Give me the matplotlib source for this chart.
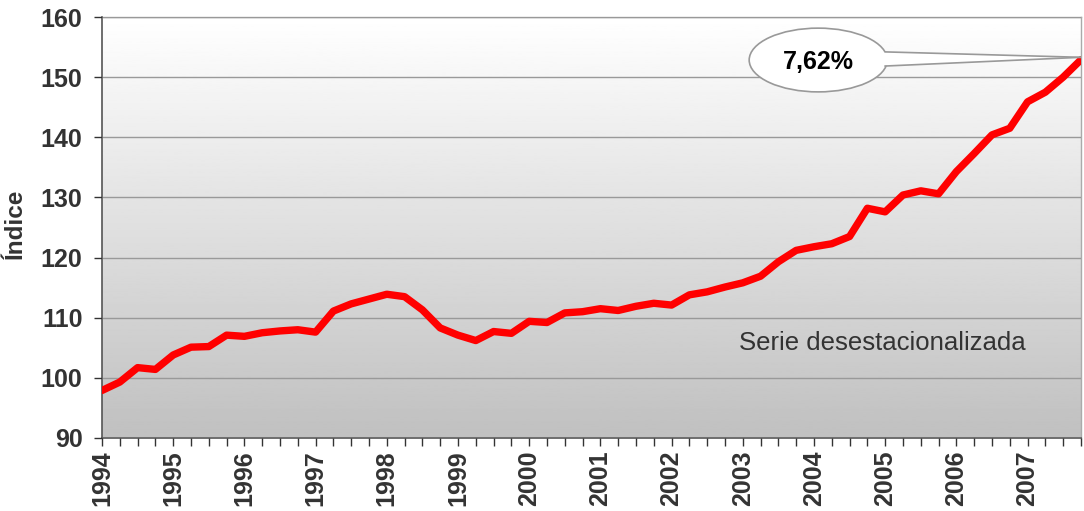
import numpy as np
import matplotlib.pyplot as plt
from matplotlib.patches import Ellipse, Polygon
from matplotlib.ticker import MultipleLocator

# serie trimestral 1994-2007 (índice desestacionalizado)
trimestres = [1994 + i / 4 for i in range(56)]
indice = [97.9, 99.3, 101.7, 101.4, 103.8, 105.1, 105.2, 107.1,
          106.9, 107.5, 107.8, 108.0, 107.6, 111.1, 112.3, 113.1,
          113.9, 113.5, 111.3, 108.3, 107.1, 106.2, 107.7, 107.4,
          109.4, 109.2, 110.8, 111.0, 111.5, 111.2, 111.9, 112.4,
          112.1, 113.8, 114.3, 115.1, 115.8, 116.9, 119.3, 121.2,
          121.8, 122.3, 123.5, 128.2, 127.6, 130.4, 131.1, 130.6,
          134.3, 137.3, 140.4, 141.5, 145.9, 147.5, 150.0, 152.9]
anos = list(range(1994, 2008))
etiqueta_var = "7,62%"
texto_serie = "Serie desestacionalizada"

plt.rcParams['font.family'] = ['Liberation Sans', 'DejaVu Sans']

fig = plt.figure(figsize=(10.84, 5.11), dpi=100)
ax = fig.add_axes([0.0941, 0.1429, 0.9031, 0.8238])

# fundo em gradiente (branco em cima, cinza embaixo)
grad = np.linspace(1.0, 0.753, 256).reshape(-1, 1)
ax.imshow(grad, cmap='gray', vmin=0, vmax=1, aspect='auto',
          extent=[1994, 2007.75, 90, 160], origin='upper', zorder=0)

ax.set_xlim(1994, 2007.75)
ax.set_ylim(90, 160)
ax.set_yticks(range(90, 161, 10))
ax.yaxis.grid(True, color='#999999', linewidth=1)
ax.set_axisbelow(False)
for gl in ax.get_ygridlines():
    gl.set_zorder(1)

ax.plot(trimestres, indice, color='#ff0000', linewidth=5.3, zorder=4,
        solid_capstyle='round', solid_joinstyle='round')

ax.set_xticks(anos)
ax.set_xticklabels([str(a) for a in anos], rotation=90)
ax.xaxis.set_minor_locator(MultipleLocator(0.25))
ax.tick_params(axis='both', which='both', direction='out', length=6,
               width=1, color='#333333')
ax.tick_params(axis='y', labelsize=18, labelcolor='#333333', pad=8)
ax.tick_params(axis='x', labelsize=18, labelcolor='#333333', pad=3)
for lbl in ax.get_xticklabels() + ax.get_yticklabels():
    lbl.set_fontweight('bold')

fig.text(15 / 1084, 1 - 224 / 511, 'Índice', rotation=90, fontsize=17.5,
         fontweight='bold', color='#333333', ha='center', va='center')

for s in ['left', 'bottom']:
    ax.spines[s].set_color('#555555')
    ax.spines[s].set_linewidth(1.2)
for s in ['top', 'right']:
    ax.spines[s].set_color('#aaaaaa')
    ax.spines[s].set_linewidth(1)

# balão com a variação
cx, cy, w, h = 2004.06, 152.85, 1.94, 10.6
ax.add_patch(Ellipse((cx, cy), w, h, facecolor='white', edgecolor='#999999',
                     linewidth=1.2, zorder=5))
tip = (trimestres[-1], indice[-1] + 0.4)
p1 = (2005.0, 154.2)
p2 = (2005.0, 151.85)
ax.add_patch(Polygon([(2004.9, 154.2), tip, (2004.9, 151.85)], closed=True,
                     facecolor='white', edgecolor='none', zorder=6))
ax.plot([p1[0], tip[0]], [p1[1], tip[1]], color='#999999', linewidth=1.2, zorder=7)
ax.plot([p2[0], tip[0]], [p2[1], tip[1]], color='#999999', linewidth=1.2, zorder=7)
ax.text(cx, cy - 0.3, etiqueta_var, fontsize=18, fontweight='bold',
        ha='center', va='center', color='black', zorder=8)

ax.text(2002.95, 105.8, texto_serie, fontsize=18.5, color='#333333',
        ha='left', va='center', zorder=3)

fig.savefig('out.png', dpi=100)
